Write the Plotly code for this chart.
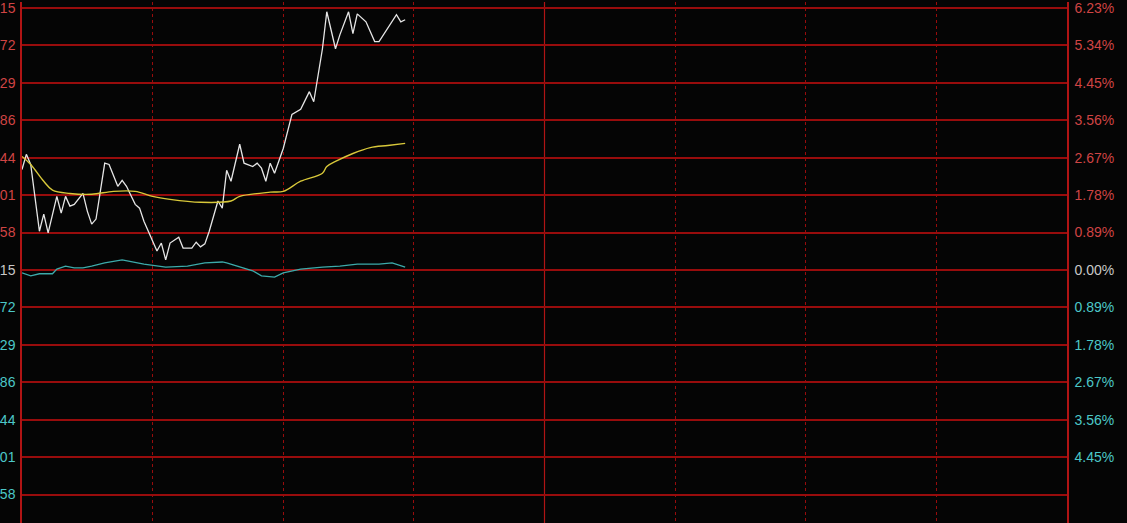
import plotly.graph_objects as go

# minute offsets from 09:30 and % change versus previous close (48.15)
price_min = [0, 1, 2, 4, 5, 6, 8, 9, 10, 11, 12, 14, 15, 16, 17, 19, 20, 22, 23, 24,
             26, 27, 28, 31, 32, 33, 34, 36, 37, 39, 40, 41, 42, 43, 45, 46, 47, 48, 50, 51,
             53, 54, 55, 56, 57, 58, 60, 61, 62, 64, 66, 67, 69, 70, 72, 73, 75, 76, 77, 79,
             81, 82, 86, 87, 88]
price_pct = [2.39, 2.75, 2.51, 0.92, 1.33, 0.88, 1.75, 1.35, 1.75, 1.52, 1.56, 1.82, 1.40, 1.09, 1.21, 2.54, 2.51, 1.99, 2.13, 1.99,
             1.56, 1.47, 1.16, 0.45, 0.64, 0.24, 0.64, 0.78, 0.52, 0.52, 0.66, 0.55, 0.62, 0.92, 1.64, 1.47, 2.37, 2.11, 2.99, 2.54,
             2.46, 2.54, 2.42, 2.11, 2.54, 2.30, 2.89, 3.29, 3.70, 3.82, 4.24, 4.00, 5.26, 6.14, 5.26, 5.59, 6.14, 5.62, 6.09, 5.90,
             5.43, 5.43, 6.07, 5.90, 5.95]

avg_min = [0, 2, 5, 7, 11, 16, 21, 26, 30, 34, 41, 48, 50, 57, 60, 64, 69, 70, 72, 76, 80, 84, 88]
avg_pct = [2.70, 2.51, 2.11, 1.90, 1.82, 1.80, 1.87, 1.87, 1.75, 1.68, 1.61, 1.64, 1.75, 1.85, 1.87, 2.11, 2.30, 2.46, 2.58, 2.77, 2.91, 2.96, 3.01]

ind_min = [0, 2, 4, 7, 8, 10, 12, 14, 16, 19, 23, 26, 28, 33, 38, 42, 46, 47, 50, 53, 55, 58, 60, 64, 69, 73, 77, 82, 85, 88]
ind_pct = [-0.07, -0.14, -0.09, -0.09, 0.02, 0.09, 0.05, 0.05, 0.09, 0.17, 0.24, 0.17, 0.14, 0.07, 0.09, 0.17, 0.19, 0.17, 0.07, -0.02,
           -0.14, -0.17, -0.07, 0.02, 0.07, 0.09, 0.14, 0.14, 0.17, 0.07]

tick_pct = [6.23, 5.34, 4.45, 3.56, 2.67, 1.78, 0.89, 0.00, -0.89, -1.78, -2.67, -3.56, -4.45, -5.34]
left_labels = ["15", "72", "29", "86", "44", "01", "58", "15", "72", "29", "86", "44", "01", "58"]
right_labels = ["6.23%", "5.34%", "4.45%", "3.56%", "2.67%", "1.78%", "0.89%", "0.00%",
                "0.89%", "1.78%", "2.67%", "3.56%", "4.45%", ""]
time_grid = [30, 60, 90, 150, 180, 210]
mid_time = 120
session_minutes = 240

UP = "#d04444"
DOWN = "#4cc8c8"
FLAT = "#c8c8c8"
GRID = "#980c0c"
AXIS = "#b01414"


def paint(vals, texts):
    out = []
    for v, t in zip(vals, texts):
        c = UP if v > 0 else (DOWN if v < 0 else FLAT)
        out.append(f"<span style='color:{c}'>{t}</span>")
    return out


y_top = 269 / 42.215
y_bot = -(523 - 269) / 42.215

fig = go.Figure()
fig.add_trace(go.Scatter(x=price_min, y=price_pct, mode="lines",
                         line=dict(color="#e6e6e6", width=1.3), hoverinfo="skip"))
fig.add_trace(go.Scatter(x=avg_min, y=avg_pct, mode="lines", line_shape="spline",
                         line=dict(color="#d8c83a", width=1.4), hoverinfo="skip"))
fig.add_trace(go.Scatter(x=ind_min, y=ind_pct, mode="lines", yaxis="y2",
                         line=dict(color="#3caaaa", width=1.3), hoverinfo="skip"))

fig.add_shape(type="line", xref="x", yref="paper", x0=mid_time, x1=mid_time, y0=0, y1=1,
              line=dict(color=AXIS, width=1.2), layer="below")

fig.update_layout(
    width=1127, height=523,
    margin=dict(l=20, r=60, t=0, b=0),
    paper_bgcolor="#050505", plot_bgcolor="#050505",
    showlegend=False,
    font=dict(family="Liberation Sans, Arial, sans-serif", size=14),
    xaxis=dict(range=[0, session_minutes], tickvals=time_grid, showticklabels=False,
               showgrid=True, gridcolor=GRID, gridwidth=1, griddash="dot",
               zeroline=False, showline=False, ticks="", fixedrange=True),
    yaxis=dict(range=[y_bot, y_top], tickvals=tick_pct, ticktext=paint(tick_pct, left_labels),
               showgrid=True, gridcolor=GRID, gridwidth=1.6, zeroline=False,
               showline=True, linecolor=AXIS, linewidth=1.5, ticks="",
               ticklabelstandoff=2, ticklabeloverflow="allow"),
    yaxis2=dict(range=[y_bot, y_top], tickvals=tick_pct, ticktext=paint(tick_pct, right_labels),
                overlaying="y", side="right", showgrid=False, zeroline=False,
                showline=True, linecolor=AXIS, linewidth=1.5, ticks="",
                ticklabelstandoff=3, ticklabeloverflow="allow"),
)

fig.write_html(
    "out.html",
    config={"displayModeBar": False},
    post_script="document.body.style.margin='0';document.body.style.overflow='hidden';"
                "document.body.style.background='#050505';",
)
